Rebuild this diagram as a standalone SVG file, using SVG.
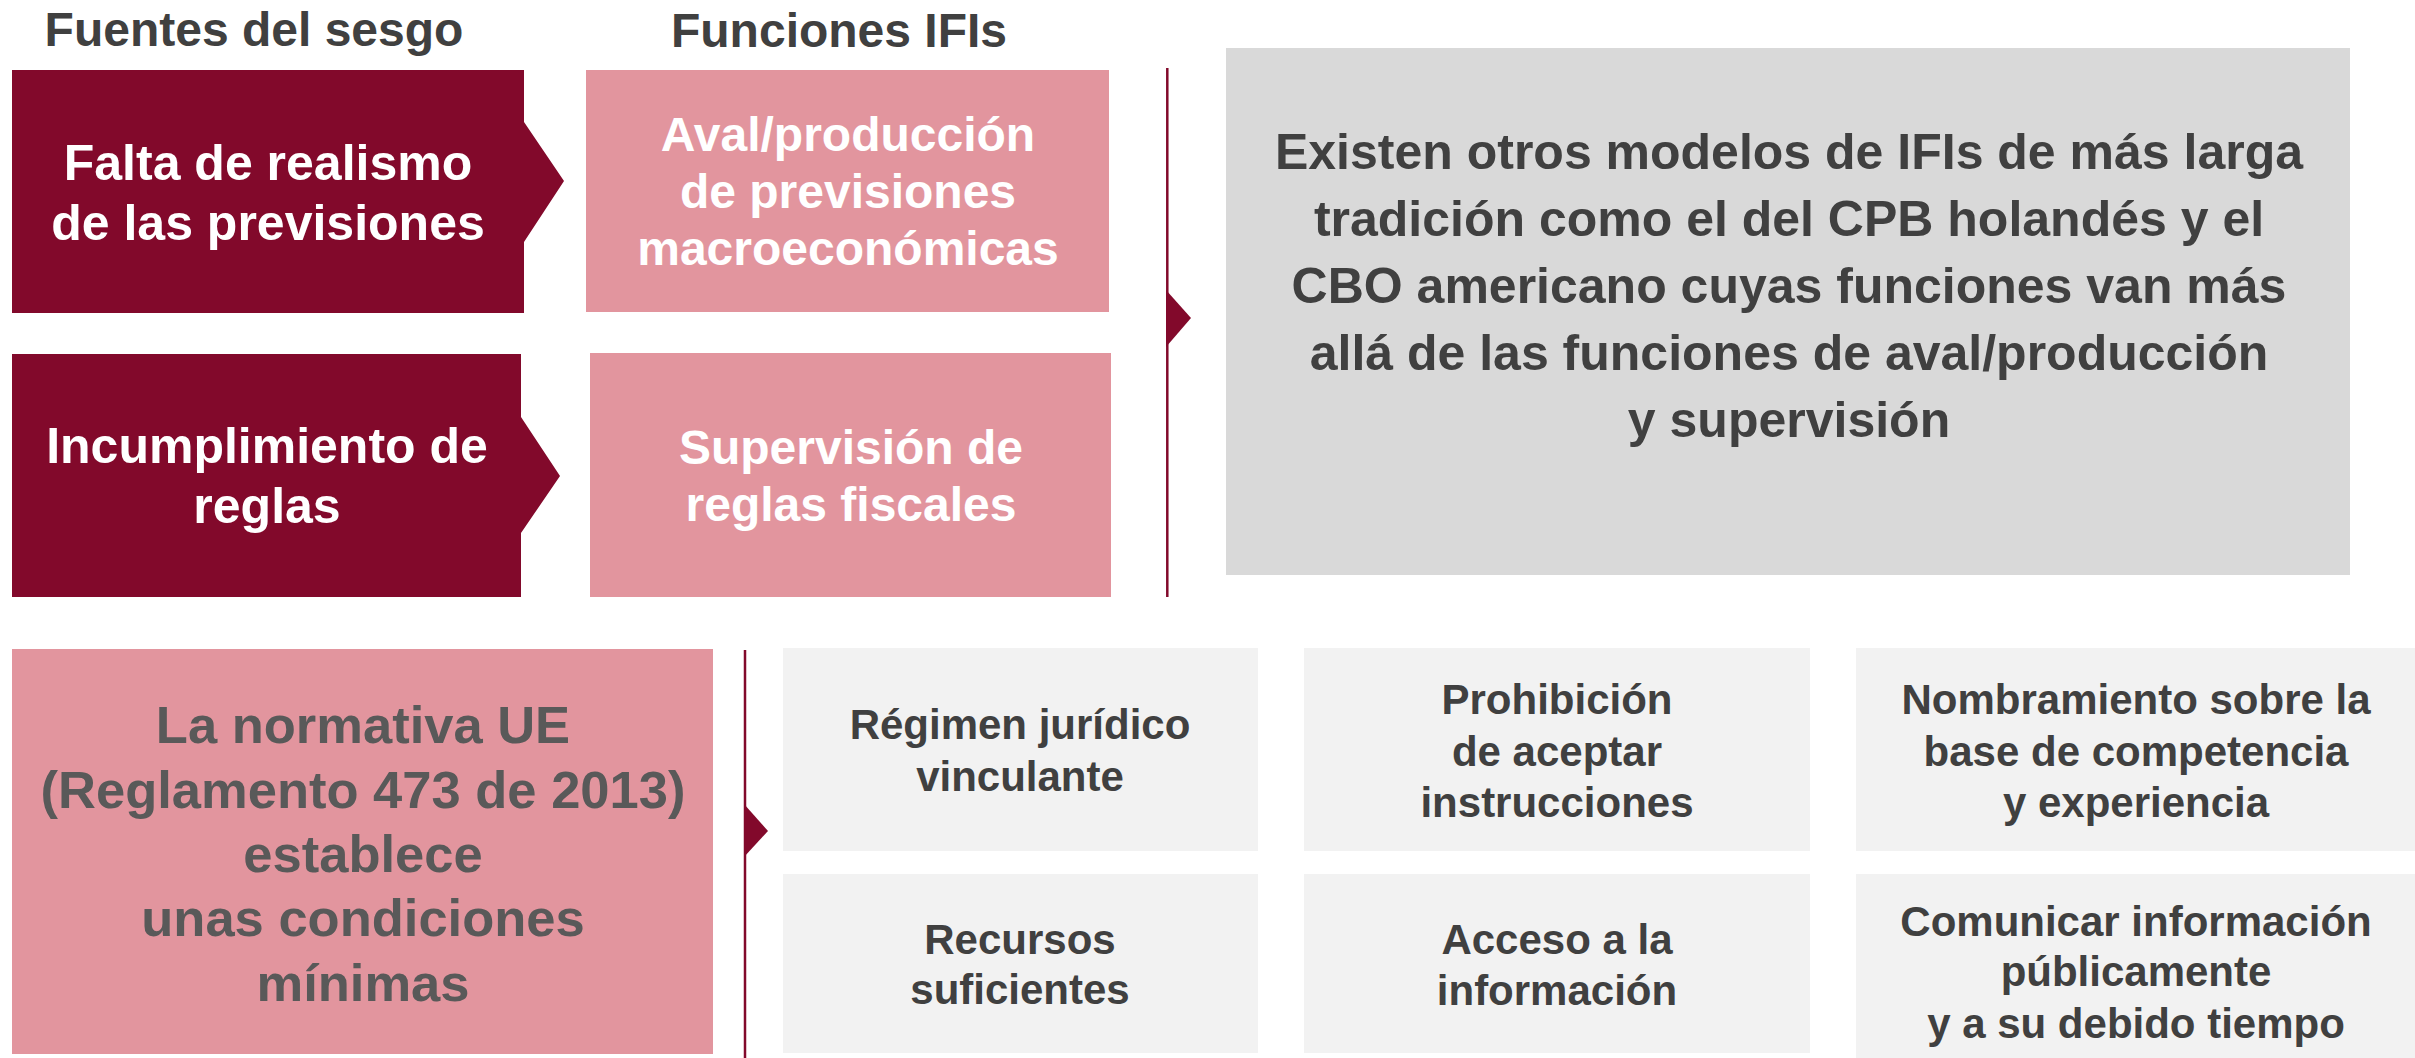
<svg xmlns="http://www.w3.org/2000/svg" width="2415" height="1058" viewBox="0 0 2415 1058">
<style>
text{font-family:"Liberation Sans",Arial,sans-serif;font-weight:bold;text-anchor:middle}
.head{font-size:48px;fill:#404040}
.dark{fill:#82092B}
.pink{fill:#E2959E}
.gray{fill:#D9D9D9}
.light{fill:#F2F2F2}
.wt{fill:#FFFFFF;font-size:50px}
.pt{fill:#FFFFFF;font-size:48px}
.gt{fill:#404040;font-size:50px}
.bt{fill:#595959;font-size:52.5px}
.st{fill:#404040;font-size:42px}
.sep{stroke:#82092B;stroke-width:2.5;fill:none}
.tri{fill:#82092B}
</style>
<rect width="2415" height="1058" fill="#FFFFFF"/>
<g id="headings">
<text class="head" x="254" y="46">Fuentes del sesgo</text>
<text class="head" x="839" y="47">Funciones IFIs</text>
</g>
<g id="node-falta">
<path class="dark" d="M12,70 H524 V122 L564,181 L524,242 V313 H12 Z"/>
<text class="wt" x="268" y="180">Falta de realismo</text>
<text class="wt" x="268" y="240">de las previsiones</text>
</g>
<g id="node-incumplimiento">
<path class="dark" d="M12,354 H521 V417 L560,476 L521,533 V597 H12 Z"/>
<text class="wt" x="267" y="463">Incumplimiento de</text>
<text class="wt" x="267" y="523">reglas</text>
</g>
<g id="node-aval">
<rect class="pink" x="586" y="70" width="523" height="242"/>
<text class="pt" x="848" y="151">Aval/producción</text>
<text class="pt" x="848" y="208">de previsiones</text>
<text class="pt" x="848" y="265">macroeconómicas</text>
</g>
<g id="node-supervision">
<rect class="pink" x="590" y="353" width="521" height="244"/>
<text class="pt" x="851" y="464">Supervisión de</text>
<text class="pt" x="851" y="521">reglas fiscales</text>
</g>
<g id="node-otros">
<rect class="gray" x="1226" y="48" width="1124" height="527"/>
<text class="gt" x="1789" y="169">Existen otros modelos de IFIs de más larga</text>
<text class="gt" x="1789" y="236">tradición como el del CPB holandés y el</text>
<text class="gt" x="1789" y="303">CBO americano cuyas funciones van más</text>
<text class="gt" x="1789" y="370">allá de las funciones de aval/producción</text>
<text class="gt" x="1789" y="437">y supervisión</text>
</g>
<g id="node-normativa">
<rect class="pink" x="12" y="649" width="701" height="405"/>
<text class="bt" x="363" y="743">La normativa UE</text>
<text class="bt" x="363" y="808">(Reglamento 473 de 2013)</text>
<text class="bt" x="363" y="872">establece</text>
<text class="bt" x="363" y="936">unas condiciones</text>
<text class="bt" x="363" y="1001">mínimas</text>
</g>
<g id="node-regimen">
<rect class="light" x="783" y="648" width="475" height="203"/>
<text class="st" x="1020" y="739">Régimen jurídico</text>
<text class="st" x="1020" y="791">vinculante</text>
</g>
<g id="node-prohibicion">
<rect class="light" x="1304" y="648" width="506" height="203"/>
<text class="st" x="1557" y="714">Prohibición</text>
<text class="st" x="1557" y="766">de aceptar</text>
<text class="st" x="1557" y="817">instrucciones</text>
</g>
<g id="node-nombramiento">
<rect class="light" x="1856" y="648" width="565" height="203"/>
<text class="st" x="2136" y="714">Nombramiento sobre la</text>
<text class="st" x="2136" y="766">base de competencia</text>
<text class="st" x="2136" y="817">y experiencia</text>
</g>
<g id="node-recursos">
<rect class="light" x="783" y="874" width="475" height="179"/>
<text class="st" x="1020" y="954">Recursos</text>
<text class="st" x="1020" y="1004">suficientes</text>
</g>
<g id="node-acceso">
<rect class="light" x="1304" y="874" width="506" height="179"/>
<text class="st" x="1557" y="954">Acceso a la</text>
<text class="st" x="1557" y="1005">información</text>
</g>
<g id="node-comunicar">
<rect class="light" x="1856" y="874" width="565" height="190"/>
<text class="st" x="2136" y="936">Comunicar información</text>
<text class="st" x="2136" y="986">públicamente</text>
<text class="st" x="2136" y="1038">y a su debido tiempo</text>
</g>
<g id="connectors">
<line class="sep" x1="1167.3" y1="68" x2="1167.3" y2="597"/>
<path class="tri" d="M1166,290 L1191,318 L1166,347 Z"/>
<line class="sep" x1="745" y1="650" x2="745" y2="1058"/>
<path class="tri" d="M744,804 L768,831 L744,857 Z"/>
</g>
</svg>
